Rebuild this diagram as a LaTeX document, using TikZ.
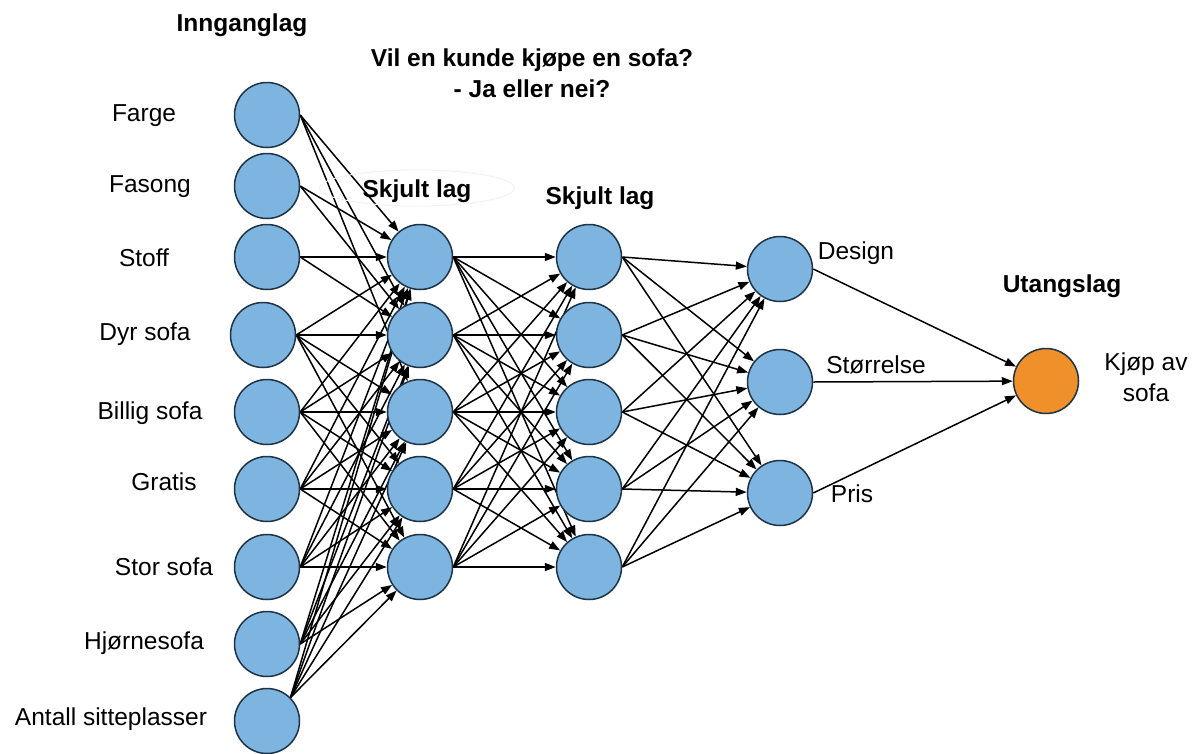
\documentclass[tikz,border=0pt]{standalone}
\usepackage{fontspec}
\setmainfont{Liberation Sans}
\usetikzlibrary{arrows.meta,shapes.geometric,backgrounds}
\definecolor{nblue}{HTML}{7DB4E0}
\definecolor{norange}{HTML}{F0902A}
\definecolor{nline}{HTML}{1F3345}
\begin{document}
\begin{tikzpicture}[x=1pt,y=-1pt,
  neuron/.style={circle, draw=nline, line width=1.5pt, fill=nblue, minimum size=65pt, inner sep=0pt},
  outneuron/.style={neuron, fill=norange},
  conn/.style={-{Triangle[length=11pt,width=8pt]}, line width=1.5pt, black},
  lbl/.style={font=\fontsize{24.5}{31}\selectfont, inner sep=0pt, align=center},
  ttl/.style={font=\fontsize{24.5}{31}\selectfont\bfseries, inner sep=0pt, align=center}]
\useasboundingbox (0,0) rectangle (1197,753);

% faint ellipse behind first hidden-layer title
\node[ellipse, draw=black!5, line width=1pt, minimum width=195pt, minimum height=36pt] (halo) at (417,188) {};

% titles
\node[ttl] (tin) at (242,25) {Innganglag};
\node[ttl] (tq) at (532,73) {Vil en kunde kjøpe en sofa?\\- Ja eller nei?};
\node[ttl] (th1) at (417,191) {Skjult lag};
\node[ttl] (th2) at (600,198) {Skjult lag};
\node[ttl] (tout) at (1062,286) {Utangslag};

% input layer
\node[neuron] (i1) at (267,115) {};
\node[neuron] (i2) at (267,186) {};
\node[neuron] (i3) at (267,257) {};
\node[neuron] (i4) at (263,335) {};
\node[neuron] (i5) at (267,412) {};
\node[neuron] (i6) at (267,489) {};
\node[neuron] (i7) at (267,567) {};
\node[neuron] (i8) at (267,644) {};
\node[neuron] (i9) at (267,721) {};

% input labels
\node[lbl] (l1) at (144,116) {Farge};
\node[lbl] (l2) at (150,187) {Fasong};
\node[lbl] (l3) at (144,258) {Stoff};
\node[lbl] (l4) at (145,334) {Dyr sofa};
\node[lbl] (l5) at (150,413) {Billig sofa};
\node[lbl] (l6) at (164,482) {Gratis};
\node[lbl] (l7) at (164,567) {Stor sofa};
\node[lbl] (l8) at (144,643) {Hjørnesofa};
\node[lbl] (l9) at (111,719) {Antall sitteplasser};

% hidden layers
\foreach \k/\y in {1/257,2/335,3/412,4/489,5/567}{
  \node[neuron] (a\k) at (420,\y) {};
  \node[neuron] (b\k) at (589,\y) {};
}

% third layer
\node[neuron] (c1) at (780,269) {};
\node[neuron] (c2) at (780,382) {};
\node[neuron] (c3) at (780,493) {};
\node[lbl] (ld) at (856,253) {Design};
\node[lbl] (ls) at (876,365) {Størrelse};
\node[lbl] (lp) at (852,494) {Pris};

% output
\node[outneuron] (o) at (1046,381) {};
\node[lbl] (lo) at (1146,377) {Kjøp av\\sofa};

\begin{pgfonlayer}{background}
% connections input -> hidden 1
\foreach \t in {1,2,3}{\draw[conn] (i1.east) -- (a\t);}
\foreach \t in {1,2}{\draw[conn] (i2.east) -- (a\t);}
\foreach \t in {1,2}{\draw[conn] (i3.east) -- (a\t);}
\foreach \s in {4,...,8}{
  \foreach \t in {1,...,5}{\draw[conn] (i\s.east) -- (a\t);}
}
\foreach \t in {1,...,5}{\draw[conn] (i9.north east) -- (a\t);}

% hidden 1 -> hidden 2
\foreach \s in {1,...,5}{
  \foreach \t in {1,...,5}{\draw[conn] (a\s.east) -- (b\t);}
}

% hidden 2 -> third layer
\foreach \s in {1,...,5}{
  \foreach \t in {1,2,3}{\draw[conn] (b\s.east) -- (c\t);}
}

% third layer -> output
\foreach \s in {1,2,3}{\draw[conn] (c\s.east) -- (o);}
\end{pgfonlayer}
\end{tikzpicture}
\end{document}
